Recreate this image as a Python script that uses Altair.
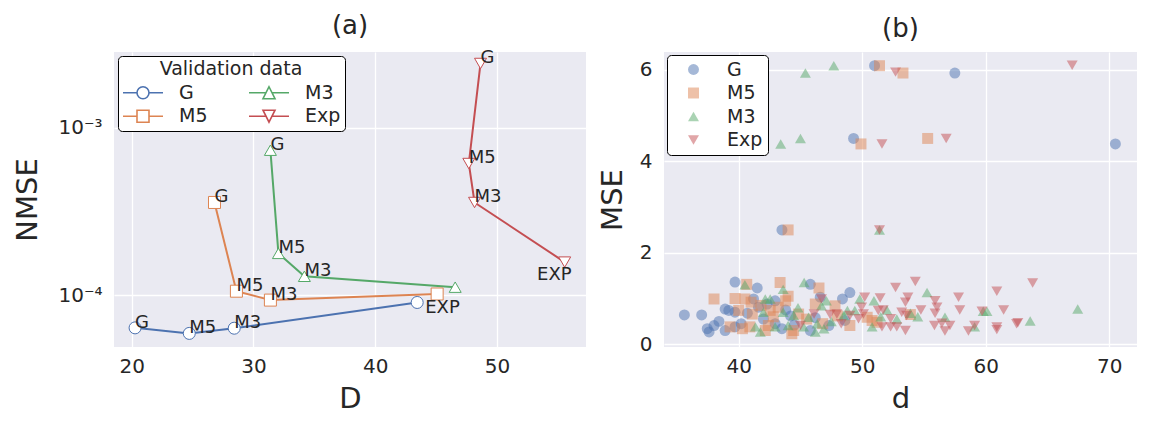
import altair as alt
import pandas as pd

FONT = "DejaVu Sans"
TXT = "#262626"
BLUE, ORANGE, GREEN, RED = "#4C72B0", "#DD8452", "#55A868", "#C44E52"

# ---------------- panel (a) data ----------------
series_names = ["G", "M5", "M3", "Exp"]
D_G = [20.28, 24.73, 28.42, 43.44]
N_G = [6.41e-5, 5.94e-5, 6.38e-5, 9.08e-5]
L_G = ["G", "M5", "M3", "EXP"]
D_M5 = [26.8, 28.6, 31.39, 45.08]
N_M5 = [3.58e-4, 1.06e-4, 9.38e-5, 1.02e-4]
L_M5 = ["G", "M5", "M3", ""]
D_M3 = [31.39, 32.05, 34.18, 46.56]
N_M3 = [7.33e-4, 1.78e-4, 1.30e-4, 1.12e-4]
L_M3 = ["G", "M5", "M3", ""]
D_Exp = [48.64, 47.68, 48.15, 55.55]
N_Exp = [2.41e-3, 6.11e-4, 3.58e-4, 1.58e-4]
L_Exp = ["G", "M5", "M3", "EXP"]

# ---------------- panel (b) data ----------------
d_G = [51.0, 57.5, 49.3, 70.5, 43.5,
       35.6, 37.0, 39.7, 41.5, 38.9, 39.2, 41.2, 39.7, 40.7, 41.6, 38.4, 38.0, 37.45, 37.6,
       38.9, 39.7, 42.3, 42.95, 42.95, 43.5, 45.8, 49.0, 48.4, 46.6, 48.6, 47.3, 45.8,
       43.8, 44.2, 42.0, 40.2, 44.5, 46.2]
m_G = [6.09, 5.93, 4.50, 4.38, 2.50,
       0.64, 0.64, 1.36, 1.23, 0.77, 0.74, 0.99, 0.70, 0.68, 0.81, 0.50, 0.41, 0.34, 0.27,
       0.30, 0.38, 0.88, 0.95, 0.45, 0.34, 1.31, 1.13, 0.99, 1.03, 0.52, 0.41, 0.30,
       0.75, 0.62, 0.55, 0.45, 0.42, 0.58]
d_M5 = [51.4, 53.3, 49.9, 55.3, 44.0,
        38.0, 40.65, 43.35, 39.7, 40.5, 41.0, 40.0, 41.1, 39.3, 40.3, 40.9, 42.15, 42.55,
        43.2, 42.4, 46.5, 46.2, 47.8, 50.4, 49.0, 50.8, 44.45, 44.3, 44.85, 53.9, 41.8,
        43.8, 45.5, 46.8, 48.0, 51.2, 44.0, 42.8]
m_M5 = [6.09, 5.93, 4.38, 4.50, 2.50,
        0.99, 1.31, 1.35, 1.00, 0.99, 0.92, 0.74, 0.66, 0.38, 0.34, 0.38, 0.30, 0.74,
        0.81, 0.41, 1.23, 0.88, 0.84, 0.59, 0.41, 0.52, 0.30, 0.23, 0.66, 0.65, 0.85,
        0.95, 0.55, 0.45, 0.62, 0.48, 1.05, 0.60]
d_M3 = [45.4, 47.7, 43.4, 45.0, 51.4,
        40.5, 43.6, 41.35, 41.75, 42.0, 42.15, 42.55, 43.6, 42.95, 45.3, 49.8, 50.95, 46.7,
        47.1, 48.5, 48.8, 49.4, 52.0, 50.8, 46.2, 46.9, 45.25, 44.0, 44.45, 45.65, 46.35,
        55.25, 53.9, 56.7, 59.8, 60.1, 59.1, 63.6, 67.45, 44.8, 47.5, 52.8, 54.5, 51.5]
m_M3 = [5.93, 6.09, 4.38, 4.50, 2.50,
        1.30, 1.20, 0.38, 0.27, 0.70, 0.99, 0.99, 0.70, 0.38, 1.35, 0.99, 0.95, 0.84,
        0.95, 0.63, 0.74, 0.74, 0.75, 0.38, 0.27, 0.34, 0.38, 0.41, 0.63, 0.59, 0.45,
        1.13, 0.68, 0.59, 0.72, 0.72, 0.38, 0.51, 0.77, 0.80, 0.50, 0.55, 0.60, 0.60]
d_Exp = [52.7, 67.0, 51.6, 56.8, 51.4,
         50.2, 51.45, 52.7, 46.7, 47.4, 47.95, 49.0, 49.95, 50.1, 49.7, 51.3, 51.7, 52.3,
         51.6, 52.3, 52.8, 53.2, 45.0, 46.1, 54.3, 53.7, 53.5, 55.9, 57.8, 60.9, 54.75,
         56.05, 57.9, 59.7, 61.45, 62.5, 55.9, 53.6, 56.45, 57.1, 55.85, 56.7, 58.6, 59.1,
         60.9, 60.9, 53.5, 63.8, 62.6, 48.3]
m_Exp = [5.95, 6.10, 4.38, 4.50, 2.50,
         1.03, 1.01, 1.24, 0.99, 0.65, 0.66, 0.63, 0.81, 0.66, 0.56, 0.74, 0.75, 0.56,
         0.38, 0.38, 0.38, 0.70, 0.41, 0.66, 1.37, 1.03, 0.92, 0.95, 1.03, 1.16, 0.75,
         0.81, 0.75, 0.72, 0.75, 0.45, 0.68, 0.63, 0.46, 0.41, 0.41, 0.29, 0.29, 0.41,
         0.38, 0.32, 0.30, 1.34, 0.47, 0.45]

# ---------------- build tables ----------------
rows_a = []
for s, D, N, L in zip(series_names, [D_G, D_M5, D_M3, D_Exp], [N_G, N_M5, N_M3, N_Exp],
                      [L_G, L_M5, L_M3, L_Exp]):
    for i, (dv, nv, lv) in enumerate(zip(D, N, L)):
        rows_a.append({"series": s, "D": dv, "NMSE": nv, "label": lv, "idx": i})
df_a = pd.DataFrame(rows_a)

rows_b = []
for s, dd, mm in zip(series_names, [d_G, d_M5, d_M3, d_Exp], [m_G, m_M5, m_M3, m_Exp]):
    for dv, mv in zip(dd, mm):
        rows_b.append({"model": s, "d": dv, "MSE": mv})
df_b = pd.DataFrame(rows_b)

# ---------------- panel (a) ----------------
order_a = ["G", "M5", "M3", "Exp"]           # legend grid is filled column by column
colors_a = [BLUE, ORANGE, GREEN, RED]
marker_of = {"G": "circle", "M5": "square", "M3": "triangle-up", "Exp": "triangle-down"}
legend_paths = [
    "M-1,0H-0.3M0.3,0H1M0.3,0A0.3,0.3 0 1,1 -0.3,0A0.3,0.3 0 1,1 0.3,0Z",
    "M-1,0H-0.3M0.3,0H1M-0.3,-0.3H0.3V0.3H-0.3Z",
    "M-1,0H-0.15M0.15,0H1M0,-0.3L0.3,0.3L-0.3,0.3Z",
    "M-1,0H-0.15M0.15,0H1M0,0.3L0.3,-0.3L-0.3,-0.3Z",
]

xa = alt.X("D:Q", scale=alt.Scale(domain=[18.55, 57.3], nice=False, zero=False),
           axis=alt.Axis(values=[20, 30, 40, 50], title="D"))
ya = alt.Y("NMSE:Q", scale=alt.Scale(type="log", domain=[4.93e-5, 2.82e-3], nice=False),
           axis=alt.Axis(values=[1e-4, 1e-3], title="NMSE", titlePadding=15,
                         labelExpr="datum.value < 0.0005 ? '10⁻⁴' : '10⁻³'"))
col_a = alt.Color("series:N", scale=alt.Scale(domain=order_a, range=colors_a), legend=None)

base_a = alt.Chart(df_a)
lines_a = base_a.mark_line(strokeWidth=2, clip=True).encode(
    x=xa, y=ya, color=col_a, order="idx:Q", detail="series:N")

point_layers = []
for s in series_names:
    point_layers.append(
        base_a.transform_filter(alt.datum.series == s).mark_point(
            shape=marker_of[s], filled=False, fill="white", size=144, strokeWidth=1,
            opacity=1, clip=True).encode(x=xa, y=ya, color=col_a))

leg_a = alt.Legend(title="Validation data", orient="top-left", columns=2, offset=4,
                   fillColor="white", strokeColor="black", cornerRadius=4, padding=4,
                   titleFontSize=19, titleFontWeight="normal", titleFont=FONT,
                   titleColor=TXT, titleAnchor="middle", titlePadding=4,
                   labelFontSize=19, labelFont=FONT, labelColor=TXT,
                   symbolSize=1600, symbolStrokeWidth=1.6, symbolFillColor="white",
                   symbolOpacity=1, clipHeight=19, labelOffset=15, columnPadding=40,
                   rowPadding=3.7)
# invisible marks that only carry the legend (line + marker symbols)
legend_driver = base_a.mark_point(filled=False, fill="white", strokeWidth=1.6, opacity=0).encode(
    x=xa, y=ya,
    stroke=alt.Stroke("series:N", scale=alt.Scale(domain=order_a, range=colors_a), legend=leg_a),
    shape=alt.Shape("series:N", scale=alt.Scale(domain=order_a, range=legend_paths), legend=leg_a))

txt_props = dict(font=FONT, fontSize=18, color=TXT, clip=False)
text_main = base_a.transform_filter("datum.label != '' && datum.label != 'EXP'").mark_text(
    align="left", baseline="alphabetic", **txt_props).encode(x=xa, y=ya, text="label:N")
text_exp_g = base_a.transform_filter("datum.label == 'EXP' && datum.series == 'G'").mark_text(
    align="left", baseline="alphabetic", dx=8, dy=11, **txt_props).encode(x=xa, y=ya, text="label:N")
text_exp_e = base_a.transform_filter("datum.label == 'EXP' && datum.series == 'Exp'").mark_text(
    align="right", baseline="alphabetic", dx=7, dy=18, **txt_props).encode(x=xa, y=ya, text="label:N")

panel_a = alt.layer(legend_driver, lines_a, *point_layers, text_main, text_exp_g, text_exp_e).properties(
    width=472, height=295,
    title=alt.TitleParams("(a)", fontSize=26, font=FONT, fontWeight="normal", color=TXT, offset=10))

# ---------------- panel (b) ----------------
order_b = ["G", "M5", "M3", "Exp"]
leg_b = alt.Legend(title=None, orient="top-left", offset=3, fillColor="white",
                   strokeColor="black", cornerRadius=4, padding=5,
                   labelFontSize=19, labelFont=FONT, labelColor=TXT,
                   symbolSize=120, symbolOffset=12, labelOffset=24, rowPadding=3.5)
panel_b = alt.Chart(df_b).mark_point(filled=True, size=120, opacity=0.5, clip=True).encode(
    x=alt.X("d:Q", scale=alt.Scale(domain=[33.95, 72.25], nice=False, zero=False),
            axis=alt.Axis(values=[40, 50, 60, 70], title="d")),
    y=alt.Y("MSE:Q", scale=alt.Scale(domain=[-0.06, 6.39], nice=False, zero=False),
            axis=alt.Axis(values=[0, 2, 4, 6], title="MSE")),
    color=alt.Color("model:N", scale=alt.Scale(domain=order_b, range=[BLUE, ORANGE, GREEN, RED]),
                    legend=leg_b),
    shape=alt.Shape("model:N", scale=alt.Scale(domain=order_b,
                    range=["circle", "square", "triangle-up", "triangle-down"]), legend=leg_b),
).properties(width=473, height=295,
             title=alt.TitleParams("(b)", fontSize=26, font=FONT, fontWeight="normal", color=TXT, offset=10))

chart = alt.hconcat(panel_a, panel_b, spacing=12).resolve_scale(
    color="independent", shape="independent", stroke="independent").properties(
    padding={"left": 5, "top": 5, "right": 5, "bottom": 5}
).configure_view(fill="#EAEAF2", strokeWidth=0).configure_axis(
    grid=True, gridColor="white", gridWidth=1.3, domain=False, ticks=False,
    labelFont=FONT, labelFontSize=20, labelColor=TXT,
    titleFont=FONT, titleFontSize=29, titleFontWeight="normal", titleColor=TXT,
).configure_axisY(labelPadding=12, titlePadding=12).configure_axisX(labelPadding=9, titlePadding=8)

chart.save("out.html", embed_options={"renderer": "svg", "actions": False})
